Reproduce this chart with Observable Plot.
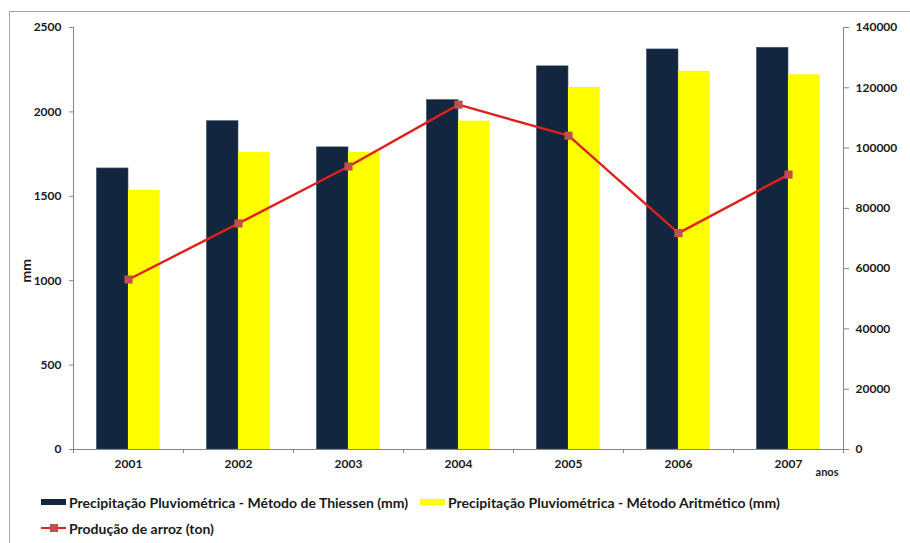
<!DOCTYPE html>
<html>
<head>
<meta charset="utf-8">
<script src="https://cdn.jsdelivr.net/npm/d3@7"></script>
<script src="https://cdn.jsdelivr.net/npm/@observablehq/plot@0.6"></script>
<style>
  html, body { margin: 0; padding: 0; background: #fff; }
  body { width: 910px; height: 543px; position: relative; overflow: hidden; font-family: Lato, "Open Sans", sans-serif; }
  #frame { position: absolute; left: 9px; top: 11px; width: 960px; height: 600px; border: 1px solid #a6a6a6; box-sizing: border-box; }
  #chart { position: absolute; left: 0; top: 0; }
  .legend { position: absolute; left: 41px; font-size: 14px; font-weight: bold; color: #1a1a1a; display: flex; align-items: center; white-space: nowrap; height: 16px; }
  .sw { display: inline-block; width: 25px; height: 6px; margin-right: 3px; }
  .lsw { position: relative; display: inline-block; width: 25px; height: 10px; margin-right: 3px; }
  .lsw .ln { position: absolute; left: 0; right: 0; top: 4px; height: 2px; background: #e0201b; }
  .lsw .mk { position: absolute; left: 9px; top: 1px; width: 8px; height: 8px; background: #c0504d; }
</style>
</head>
<body>
<div id="frame"></div>
<div id="chart"></div>
<div class="legend" style="top:494px;">
  <span class="sw" style="background:#12263f"></span><span>Precipitação Pluviométrica - Método de Thiessen (mm)</span>
  <span class="sw" style="background:#ffff00; margin-left:12px"></span><span>Precipitação Pluviométrica - Método Aritmético (mm)</span>
</div>
<div class="legend" style="top:520px;">
  <span class="lsw"><span class="ln"></span><span class="mk"></span></span><span>Produção de arroz (ton)</span>
</div>
<script>
const years = [2001, 2002, 2003, 2004, 2005, 2006, 2007];
const thiessen = [1665, 1945, 1790, 2070, 2270, 2370, 2380];
const aritmetico = [1535, 1760, 1760, 1945, 2145, 2240, 2220];
const producao = [56400, 75000, 93900, 114400, 104100, 71800, 91200];
const leftTicks = [0, 500, 1000, 1500, 2000, 2500];
const rightTicks = [0, 20000, 40000, 60000, 80000, 100000, 120000, 140000];

const leftMax = 2500, rightMax = 140000;
const k = leftMax / rightMax;
const barW = 0.287;
const xDomain = [years[0] - 0.5, years[years.length - 1] + 0.5];
const bounds = d3.range(years.length + 1).map(i => xDomain[0] + i);

const rowsT = years.map((y, i) => ({year: y, v: thiessen[i]}));
const rowsA = years.map((y, i) => ({year: y, v: aritmetico[i]}));
const rowsP = years.map((y, i) => ({year: y, v: producao[i] * k}));

const axisColor = "#868686";
const textColor = "#1a1a1a";

const chart = Plot.plot({
  width: 910,
  height: 485,
  marginTop: 27,
  marginBottom: 36,
  marginLeft: 73,
  marginRight: 67,
  style: {fontFamily: "Lato, sans-serif", fontSize: "12px", fontWeight: "bold", color: textColor, background: "transparent"},
  x: {domain: xDomain, type: "linear"},
  y: {domain: [0, leftMax]},
  marks: [
    Plot.rectY(rowsT, {x1: d => d.year - barW, x2: d => d.year, y: "v", fill: "#12263f", stroke: "#44546a", strokeWidth: 0.6}),
    Plot.rectY(rowsA, {x1: d => d.year, x2: d => d.year + barW, y: "v", fill: "#ffff00"}),
    Plot.ruleY([0], {stroke: axisColor}),
    Plot.ruleX([xDomain[0], xDomain[1]], {stroke: axisColor}),
    Plot.axisY({anchor: "left", ticks: leftTicks, tickSize: 4, tickPadding: 8, stroke: axisColor, fill: textColor, label: null, tickFormat: d => String(d)}),
    Plot.axisY({anchor: "right", ticks: rightTicks.map(v => v * k), tickSize: 5, tickPadding: 7, stroke: axisColor, fill: textColor, label: null, tickFormat: d => String(Math.round(d / k))}),
    Plot.axisX({ticks: bounds, tickSize: 4, stroke: axisColor, tickFormat: () => "", label: null}),
    Plot.axisX({ticks: years, tickSize: 0, tickPadding: 10, fill: textColor, tickFormat: d => String(d), label: null}),
    Plot.line(rowsP, {x: "year", y: "v", stroke: "#e0201b", strokeWidth: 2.4}),
    Plot.dot(rowsP, {x: "year", y: "v", symbol: "square", r: 4.6, fill: "#c0504d", stroke: "none"}),
    Plot.text(["mm"], {frameAnchor: "left", dx: -47, dy: 44, rotate: -90, fontWeight: "bold", fontSize: 14, fill: textColor}),
    Plot.text(["anos"], {frameAnchor: "bottom-right", textAnchor: "end", dx: -5, dy: 26, fontWeight: "bold", fontSize: 11, fill: textColor})
  ]
});
document.getElementById("chart").appendChild(chart);
</script>
</body>
</html>
